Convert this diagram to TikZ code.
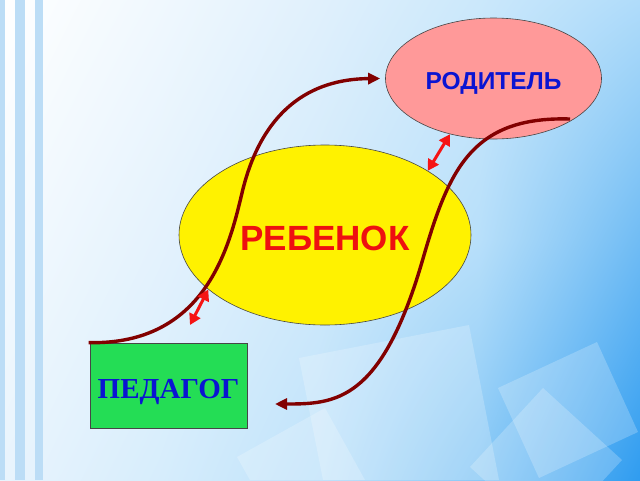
\documentclass[tikz,border=0pt]{standalone}
\usepackage{fontspec}
\newfontfamily\sansb{Liberation Sans}
\newfontfamily\serifb{Liberation Serif}
\usetikzlibrary{shapes.geometric,arrows.meta,shadings}
% background grid colours (s = x + y/2)
\definecolor{g00}{RGB}{255,255,255}
\definecolor{g10}{RGB}{240,248,254}
\definecolor{g20}{RGB}{224,240,252}
\definecolor{g30}{RGB}{203,232,251}
\definecolor{g40}{RGB}{176,220,250}
\definecolor{g01}{RGB}{244,250,254}
\definecolor{g11}{RGB}{228,242,253}
\definecolor{g21}{RGB}{209,234,251}
\definecolor{g31}{RGB}{183,223,250}
\definecolor{g41}{RGB}{112,188,244}
\definecolor{g02}{RGB}{233,244,253}
\definecolor{g12}{RGB}{214,237,252}
\definecolor{g22}{RGB}{190,226,250}
\definecolor{g32}{RGB}{133,199,246}
\definecolor{g42}{RGB}{47,156,240}
\definecolor{stripe}{RGB}{188,221,246}
\definecolor{pinkfill}{RGB}{255,153,153}
\definecolor{greenfill}{RGB}{36,221,85}
\definecolor{darkred}{RGB}{130,0,0}
\definecolor{txtblue}{RGB}{10,20,210}
\definecolor{txtred}{RGB}{238,16,16}
\definecolor{arrred}{RGB}{245,20,20}
\definecolor{edge}{RGB}{70,70,70}
\newcommand{\bgcell}[8]{\shade[upper left=#5,upper right=#6,lower left=#7,lower right=#8] (#1,#2) rectangle (#3,#4);}
\begin{document}
\begin{tikzpicture}[x=1pt,y=-1pt,
  panel/.style={fill=white,fill opacity=0.22,draw=none},
  bigoval/.style={ellipse,draw=edge,line width=0.6pt,inner sep=0pt},
  brownline/.style={draw=darkred,line width=3.4pt,-{Triangle[length=12pt,width=11pt]}},
  redarrow/.style={draw=arrred,line width=3pt,{Triangle[length=11pt,width=12pt]}-{Triangle[length=11pt,width=12pt]}}]
\useasboundingbox (0,0) rectangle (640,480);
% background
\bgcell{0}{0}{160.5}{240.5}{g00}{g10}{g01}{g11}
\bgcell{160}{0}{320.5}{240.5}{g10}{g20}{g11}{g21}
\bgcell{320}{0}{480.5}{240.5}{g20}{g30}{g21}{g31}
\bgcell{480}{0}{640}{240.5}{g30}{g40}{g31}{g41}
\bgcell{0}{240}{160.5}{480}{g01}{g11}{g02}{g12}
\bgcell{160}{240}{320.5}{480}{g11}{g21}{g12}{g22}
\bgcell{320}{240}{480.5}{480}{g21}{g31}{g22}{g32}
\bgcell{480}{240}{640}{480}{g31}{g41}{g32}{g42}
% left stripes
\fill[stripe] (0,0) rectangle (5,480);
\fill[stripe] (15,0) rectangle (25,480);
\fill[stripe] (35,0) rectangle (43,480);
% translucent panels
\fill[panel] (299,358) -- (469,325) -- (499,480) -- (323,480) -- cycle;
\fill[panel] (498,388) -- (597,342) -- (638,432) -- (539,478) -- cycle;
\fill[panel] (543,388) -- (622,460) -- (549,539) -- (470,467) -- cycle;
\fill[panel] (237,457) -- (325,408) -- (365,480) -- (250,480) -- cycle;
% main shapes
\node[bigoval,fill=yellow,minimum width=292pt,minimum height=180pt,
  font=\sansb\bfseries\fontsize{35}{40}\selectfont,text=txtred,
  text height=30pt,text depth=0pt] (Y) at (325,235) {РЕБЕНОК};
\node[bigoval,fill=pinkfill,minimum width=216pt,minimum height=121pt,
  font=\sansb\bfseries\fontsize{24.5}{28}\selectfont,text=txtblue,
  text height=21pt,text depth=0pt] (R) at (493.5,78.5) {РОДИТЕЛЬ};
\node[rectangle,draw=edge,line width=0.7pt,fill=greenfill,inner sep=0pt,
  minimum width=157pt,minimum height=85pt,
  font=\serifb\bfseries\fontsize{29}{33}\selectfont,text=txtblue,
  text height=25pt,text depth=0pt] (P) at (168.5,385.5) {ПЕДАГОГ};
% connectors
\coordinate (c2s) at (570,119);
\coordinate (c2e) at (275,404);
\coordinate (c3) at (190,325);
\draw[brownline] ([xshift=-1pt]P.north west) .. controls (205,345) and (229,248) .. (242,193)
  .. controls (261.5,110.5) and (310,79) .. ([xshift=-5pt]R.west);
\draw[brownline] (c2s) .. controls (470,116) and (448,172) .. (422,262)
  .. controls (381,402) and (335,404) .. (c2e);
\draw[redarrow] (Y.32) -- (R.232);
\draw[redarrow] (c3) -- (Y.205);
\end{tikzpicture}
\end{document}
